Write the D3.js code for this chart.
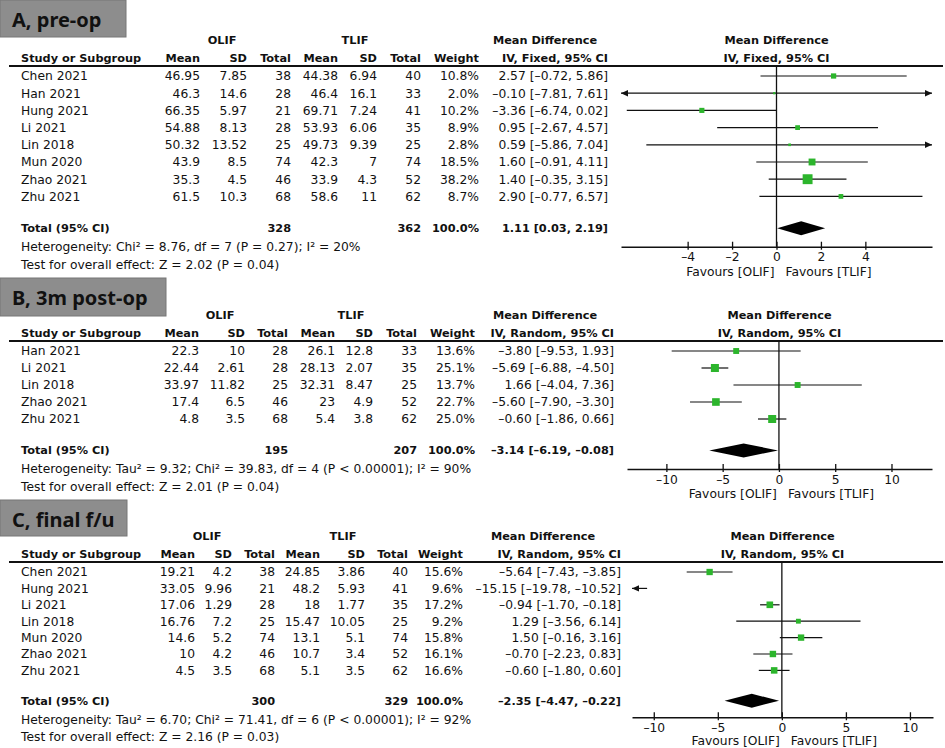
<!DOCTYPE html>
<html>
<head>
<meta charset="utf-8">
<script src="https://cdn.jsdelivr.net/npm/d3@7"></script>
<style>
  body { margin: 0; background: #fff; }
  text { font-family: "DejaVu Sans", sans-serif; font-size: 12.3px; fill: #111; }
  .b { font-weight: bold; font-size: 11.3px; }
</style>
</head>
<body>
<svg id="chart" width="945" height="748"></svg>
<script>
// ---- A, pre-op ----
const studiesA = ["Chen 2021", "Han 2021", "Hung 2021", "Li 2021", "Lin 2018", "Mun 2020", "Zhao 2021", "Zhu 2021"];
const olifMeanA = [46.95, 46.3, 66.35, 54.88, 50.32, 43.9, 35.3, 61.5];
const olifSdA = [7.85, 14.6, 5.97, 8.13, 13.52, 8.5, 4.5, 10.3];
const olifNA = [38, 28, 21, 28, 25, 74, 46, 68];
const tlifMeanA = [44.38, 46.4, 69.71, 53.93, 49.73, 42.3, 33.9, 58.6];
const tlifSdA = [6.94, 16.1, 7.24, 6.06, 9.39, 7, 4.3, 11];
const tlifNA = [40, 33, 41, 35, 25, 74, 52, 62];
const weightA = [10.8, 2.0, 10.2, 8.9, 2.8, 18.5, 38.2, 8.7];
const mdA = [2.57, -0.10, -3.36, 0.95, 0.59, 1.60, 1.40, 2.90];
const lowA = [-0.72, -7.81, -6.74, -2.67, -5.86, -0.91, -0.35, -0.77];
const highA = [5.86, 7.61, 0.02, 4.57, 7.04, 4.11, 3.15, 6.57];
const totalNA = [328, 362];
const pooledA = [1.11, 0.03, 2.19];
const ticksA = [-4, -2, 0, 2, 4];

// ---- B, 3m post-op ----
const studiesB = ["Han 2021", "Li 2021", "Lin 2018", "Zhao 2021", "Zhu 2021"];
const olifMeanB = [22.3, 22.44, 33.97, 17.4, 4.8];
const olifSdB = [10, 2.61, 11.82, 6.5, 3.5];
const olifNB = [28, 28, 25, 46, 68];
const tlifMeanB = [26.1, 28.13, 32.31, 23, 5.4];
const tlifSdB = [12.8, 2.07, 8.47, 4.9, 3.8];
const tlifNB = [33, 35, 25, 52, 62];
const weightB = [13.6, 25.1, 13.7, 22.7, 25.0];
const mdB = [-3.80, -5.69, 1.66, -5.60, -0.60];
const lowB = [-9.53, -6.88, -4.04, -7.90, -1.86];
const highB = [1.93, -4.50, 7.36, -3.30, 0.66];
const totalNB = [195, 207];
const pooledB = [-3.14, -6.19, -0.08];
const ticksB = [-10, -5, 0, 5, 10];

// ---- C, final f/u ----
const studiesC = ["Chen 2021", "Hung 2021", "Li 2021", "Lin 2018", "Mun 2020", "Zhao 2021", "Zhu 2021"];
const olifMeanC = [19.21, 33.05, 17.06, 16.76, 14.6, 10, 4.5];
const olifSdC = [4.2, 9.96, 1.29, 7.2, 5.2, 4.2, 3.5];
const olifNC = [38, 21, 28, 25, 74, 46, 68];
const tlifMeanC = [24.85, 48.2, 18, 15.47, 13.1, 10.7, 5.1];
const tlifSdC = [3.86, 5.93, 1.77, 10.05, 5.1, 3.4, 3.5];
const tlifNC = [40, 41, 35, 25, 74, 52, 62];
const weightC = [15.6, 9.6, 17.2, 9.2, 15.8, 16.1, 16.6];
const mdC = [-5.64, -15.15, -0.94, 1.29, 1.50, -0.70, -0.60];
const lowC = [-7.43, -19.78, -1.70, -3.56, -0.16, -2.23, -1.80];
const highC = [-3.85, -10.52, -0.18, 6.14, 3.16, 0.83, 0.60];
const totalNC = [300, 329];
const pooledC = [-2.35, -4.47, -0.22];
const ticksC = [-10, -5, 0, 5, 10];

const panels = [
  { title: "A, pre-op", method: "IV, Fixed, 95% CI",
    het: "Heterogeneity: Chi² = 8.76, df = 7 (P = 0.27); I² = 20%",
    test: "Test for overall effect: Z = 2.02 (P = 0.04)",
    studies: studiesA, olifMean: olifMeanA, olifSd: olifSdA, olifN: olifNA,
    tlifMean: tlifMeanA, tlifSd: tlifSdA, tlifN: tlifNA, weight: weightA,
    md: mdA, low: lowA, high: highA, totalN: totalNA, pooled: pooledA, ticks: ticksA,
    domain: [-7, 7],
    lay: { top: 0, box: [0, 37, 126], step: 17.2, range: [621, 932], mdHead: 545,
           axisOff: 18.5, favOff: 25,
           cols: [200, 247, 291, 338, 377, 421, 479, 608] } },
  { title: "B, 3m post-op", method: "IV, Random, 95% CI",
    het: "Heterogeneity: Tau² = 9.32; Chi² = 39.83, df = 4 (P < 0.00001); I² = 90%",
    test: "Test for overall effect: Z = 2.01 (P = 0.04)",
    studies: studiesB, olifMean: olifMeanB, olifSd: olifSdB, olifN: olifNB,
    tlifMean: tlifMeanB, tlifSd: tlifSdB, tlifN: tlifNB, weight: weightB,
    md: mdB, low: lowB, high: highB, totalN: totalNB, pooled: pooledB, ticks: ticksB,
    domain: [-13.5, 13.6],
    lay: { top: 275, box: [278, 38, 166], step: 17, range: [627, 932], mdHead: 545,
           axisOff: 18.5, favOff: 25,
           cols: [199, 245, 288, 335, 373, 417, 475, 614] } },
  { title: "C, final f/u", method: "IV, Random, 95% CI",
    het: "Heterogeneity: Tau² = 6.70; Chi² = 71.41, df = 6 (P < 0.00001); I² = 92%",
    test: "Test for overall effect: Z = 2.16 (P = 0.03)",
    studies: studiesC, olifMean: olifMeanC, olifSd: olifSdC, olifN: olifNC,
    tlifMean: tlifMeanC, tlifSd: tlifSdC, tlifN: tlifNC, weight: weightC,
    md: mdC, low: lowC, high: highC, totalN: totalNC, pooled: pooledC, ticks: ticksC,
    domain: [-11.7, 11.8],
    lay: { top: 496, box: [500, 36, 127], step: 16.4, range: [632, 933], mdHead: 543,
           axisOff: 16.5, favOff: 23,
           cols: [195, 232, 275, 320, 365, 408, 463, 621] } }
];

const svg = d3.select("#chart");
const dash = s => s.replace(/\u2212/g, "\u2013");
const f2 = v => dash(d3.format(".2f")(v));
const f1 = d3.format(".1f");
const boxSize = d3.scaleSqrt().domain([0, 100]).range([0, 16]);
const green = "#2cb52c";

function ciText(m, lo, hi) {
  return f2(m) + " [" + f2(lo) + ", " + f2(hi) + "]";
}

function label(g, x, y, txt, anchor, bold) {
  return g.append("text")
    .attr("x", x).attr("y", y).attr("dy", "0.35em")
    .attr("text-anchor", anchor || "start")
    .attr("class", bold ? "b" : null)
    .text(txt);
}

function arrow(g, xe, y, dir) {
  // dir = 1 right, -1 left
  g.append("path")
    .attr("d", "M" + xe + "," + y + "L" + (xe - dir * 7) + "," + (y - 3.2) +
               "L" + (xe - dir * 7) + "," + (y + 3.2) + "Z")
    .attr("fill", "#111");
}

panels.forEach(function (p) {
  const L = p.lay, t = L.top, c = L.cols;
  const g = svg.append("g");
  const n = p.studies.length;
  const rowY = i => t + 76 + i * L.step;
  const totalY = t + 76 + (n + 0.85) * L.step;
  const axisY = totalY + L.axisOff;
  const x = d3.scaleLinear().domain(p.domain).range(L.range);
  const xc = (L.range[0] + L.range[1]) / 2;

  // title box
  g.append("rect")
    .attr("x", 0).attr("y", L.box[0]).attr("width", L.box[2]).attr("height", L.box[1])
    .attr("fill", "#8d8d8d").attr("stroke", "#777").attr("stroke-width", 1);
  g.append("text")
    .attr("x", 12).attr("y", L.box[0] + 27)
    .style("font-family", "'Noto Sans', 'DejaVu Sans', sans-serif")
    .style("font-size", "20px").style("font-weight", "bold")
    .text(p.title);

  // headers
  label(g, c[1] - 25, t + 40, "OLIF", "middle", true);
  label(g, c[4] - 22, t + 40, "TLIF", "middle", true);
  label(g, L.mdHead, t + 40, "Mean Difference", "middle", true);
  label(g, xc, t + 40, "Mean Difference", "middle", true);
  label(g, 21, t + 58, "Study or Subgroup", "start", true);
  ["Mean", "SD", "Total", "Mean", "SD", "Total", "Weight", p.method].forEach(function (h, i) {
    label(g, c[i], t + 58, h, "end", true);
  });
  label(g, xc, t + 58, p.method, "middle", true);

  g.append("line")
    .attr("x1", 9).attr("x2", 943).attr("y1", t + 66).attr("y2", t + 66)
    .attr("stroke", "#111").attr("stroke-width", 2);

  // study rows
  p.studies.forEach(function (s, i) {
    const y = rowY(i);
    label(g, 21, y, s);
    const vals = [p.olifMean[i], p.olifSd[i], p.olifN[i], p.tlifMean[i], p.tlifSd[i], p.tlifN[i],
                  f1(p.weight[i]) + "%", ciText(p.md[i], p.low[i], p.high[i])];
    vals.forEach(function (v, j) { label(g, c[j], y, String(v), "end"); });

    const d0 = p.domain[0], d1 = p.domain[1];
    const lo = Math.max(p.low[i], d0), hi = Math.min(p.high[i], d1);
    g.append("line")
      .attr("x1", x(lo)).attr("x2", x(hi)).attr("y1", y).attr("y2", y)
      .attr("stroke", "#111").attr("stroke-width", 1.2);
    if (p.low[i] < d0) arrow(g, x(d0), y, -1);
    if (p.high[i] > d1) arrow(g, x(d1), y, 1);
    if (p.md[i] >= d0 && p.md[i] <= d1) {
      const s2 = boxSize(p.weight[i]);
      g.append("rect")
        .attr("x", x(p.md[i]) - s2 / 2).attr("y", y - s2 / 2)
        .attr("width", s2).attr("height", s2)
        .attr("fill", green);
    }
  });

  // total row
  label(g, 21, totalY, "Total (95% CI)", "start", true);
  label(g, c[2], totalY, String(p.totalN[0]), "end", true);
  label(g, c[5], totalY, String(p.totalN[1]), "end", true);
  label(g, c[6], totalY, "100.0%", "end", true);
  label(g, c[7], totalY, ciText(p.pooled[0], p.pooled[1], p.pooled[2]), "end", true);
  label(g, 21, totalY + 18.5, p.het);
  label(g, 21, totalY + 36, p.test);

  // zero line
  g.append("line")
    .attr("x1", x(0)).attr("x2", x(0)).attr("y1", t + 66).attr("y2", axisY)
    .attr("stroke", "#111").attr("stroke-width", 1.3);

  // pooled diamond
  const pm = p.pooled;
  g.append("path")
    .attr("d", "M" + x(pm[1]) + "," + totalY + "L" + x(pm[0]) + "," + (totalY - 7) +
               "L" + x(pm[2]) + "," + totalY + "L" + x(pm[0]) + "," + (totalY + 7) + "Z")
    .attr("fill", "#000");

  // axis
  const ax = g.append("g")
    .attr("transform", "translate(0," + axisY + ")")
    .call(d3.axisBottom(x).tickValues(p.ticks).tickFormat(v => dash(d3.format("")(v)))
      .tickSizeInner(3).tickSizeOuter(0).tickPadding(3));
  ax.select(".domain").attr("stroke", "#111").attr("stroke-width", 1.5);
  ax.selectAll(".tick line").attr("y1", -5).attr("y2", 3).attr("stroke", "#111").attr("stroke-width", 1.3);
  ax.selectAll(".tick text")
    .style("font-family", "'DejaVu Sans', sans-serif").style("font-size", "12.3px").attr("fill", "#111");

  label(g, x(0) - 2, axisY + L.favOff, "Favours [OLIF]", "end");
  label(g, x(0) + 9, axisY + L.favOff, "Favours [TLIF]", "start");
});
</script>
</body>
</html>
